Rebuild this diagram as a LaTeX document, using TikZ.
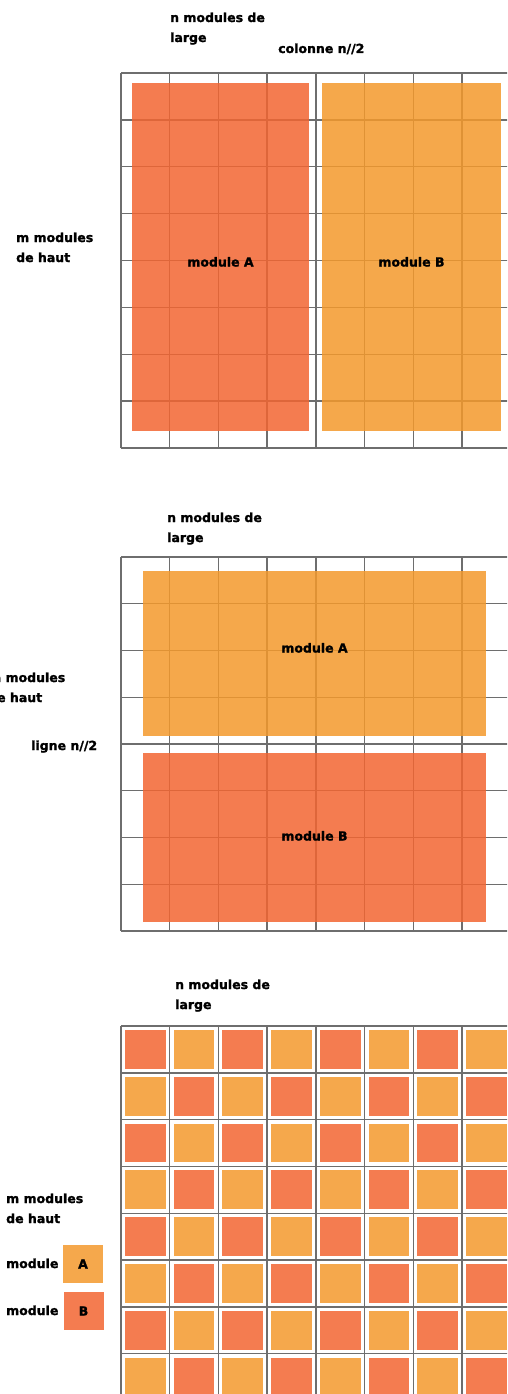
\documentclass[tikz,border=0pt]{standalone}
\usepackage{fontspec}
\setmainfont{DejaVu Sans}[BoldFeatures={FakeBold=1.5}]
\definecolor{modred}{RGB}{242,101,49}
\definecolor{modorange}{RGB}{243,153,44}
\definecolor{sqred}{RGB}{244,124,80}
\definecolor{sqorange}{RGB}{245,168,76}
\definecolor{gridgray}{RGB}{110,110,110}
\newcommand{\modtxt}[2]{\smash{\raisebox{#1}{#2}}}
\tikzset{
  lbl/.style={anchor=base west, font=\bfseries\fontsize{12.5}{20}\selectfont, inner sep=0pt, align=left},
  gridline/.style={draw=gridgray, line width=1.4pt},
  modbox/.style={fill opacity=0.85, text opacity=1, inner sep=0pt, font=\bfseries\fontsize{12.5}{15}\selectfont},
  legbox/.style={inner sep=0pt, minimum width=40pt, minimum height=38pt, font=\bfseries\fontsize{12.5}{15}\selectfont},
}
\begin{document}
\begin{tikzpicture}[x=1pt,y=-1pt]
\useasboundingbox (0,0) rectangle (507,1394);
\begin{scope}
\clip (0,0) rectangle (507,1394);
% ---------- panel 1 grid ----------
\foreach \i in {0,...,8} \draw[gridline] ({121+\i*48.7},73) -- ({121+\i*48.7},448);
\foreach \j in {0,...,8} \draw[gridline] (121,{73+\j*46.875}) -- (511,{73+\j*46.875});
\node[modbox, fill=modred, minimum width=177pt, minimum height=348pt] (modA1) at (220.5,257) {\modtxt{-9.5pt}{module A}};
\node[modbox, fill=modorange, minimum width=179pt, minimum height=348pt] (modB1) at (411.5,257) {\modtxt{-9.5pt}{module B}};
% ---------- panel 2 grid ----------
\foreach \i in {0,...,8} \draw[gridline] ({121+\i*48.7},557) -- ({121+\i*48.7},931);
\foreach \j in {0,...,8} \draw[gridline] (121,{557+\j*46.75}) -- (511,{557+\j*46.75});
\node[modbox, fill=modorange, minimum width=343pt, minimum height=165pt] (modA2) at (314.5,653.5) {\modtxt{1pt}{module A}};
\node[modbox, fill=modred, minimum width=343pt, minimum height=169pt] (modB2) at (314.5,837.5) {\modtxt{-3pt}{module B}};
% ---------- panel 3 grid ----------
\foreach \i in {0,...,8} \draw[gridline] ({121+\i*48.7},1026) -- ({121+\i*48.7},1400);
\foreach \j in {0,...,8} \draw[gridline] (121,{1026+\j*46.8}) -- (511,{1026+\j*46.8});
\foreach \r in {0,...,7} {
  \foreach \c in {0,...,7} {
    \pgfmathtruncatemacro\k{mod(\r+\c,2)}
    \ifnum\k=0 \def\sqcol{sqred}\else\def\sqcol{sqorange}\fi
    \fill[\sqcol] ({121+\c*48.7+4},{1026+\r*46.8+4}) rectangle ++(40.7,38.8);
  }
}
\end{scope}
% ---------- labels panel 1 ----------
\node[lbl] (w1) at (170,42) {n modules de\\large};
\node[lbl] (col) at (278,53) {colonne n//2};
\node[lbl] (h1) at (16,262) {m modules\\de haut};
% ---------- labels panel 2 ----------
\node[lbl] (w2) at (167,542) {n modules de\\large};
\node[lbl] (h2) at (-12,702) {m modules\\de haut};
\node[lbl] (lig) at (31,750) {ligne n//2};
% ---------- labels panel 3 ----------
\node[lbl] (w3) at (175,1009) {n modules de\\large};
\node[lbl] (h3) at (6,1223) {m modules\\de haut};
\node[lbl] (lmA) at (6,1268) {module};
\node[lbl] (lmB) at (6,1315) {module};
\node[legbox, fill=sqorange] (legA) at (83,1264) {A};
\node[legbox, fill=sqred] (legB) at (83.5,1311) {B};
\end{tikzpicture}
\end{document}
